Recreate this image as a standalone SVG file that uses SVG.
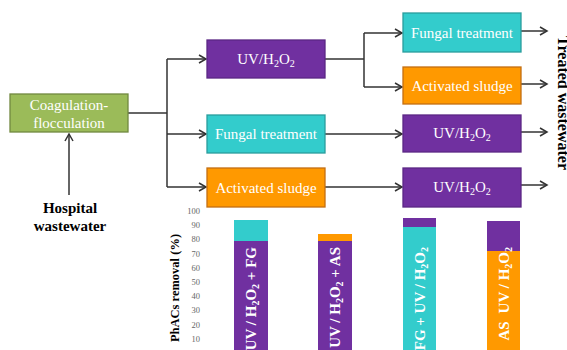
<svg xmlns="http://www.w3.org/2000/svg" width="567" height="350" viewBox="0 0 567 350">
<style>
.box{stroke-width:1.3}
.purple{fill:#7030A0;stroke:#5B2784}
.cyan{fill:#33CCCC;stroke:#2A9D9D}
.orange{fill:#FF9900;stroke:#C46F12}
.green{fill:#9BBB59;stroke:#71893F}
.bt{font-family:"Liberation Serif","Times New Roman",serif;font-size:15px;fill:#fff;text-anchor:middle}
.lbl{font-family:"Liberation Serif","Times New Roman",serif;font-weight:bold;fill:#000}
.bar{font-family:"Liberation Serif","Times New Roman",serif;font-weight:bold;font-size:15px;fill:#fff;text-anchor:end}
.tick{font-family:"Liberation Serif","Times New Roman",serif;font-size:8.5px;fill:#666;text-anchor:end}
.ln{fill:none;stroke:#333;stroke-width:1.5}
</style>
<defs>
<marker id="ah" markerUnits="userSpaceOnUse" markerWidth="10" markerHeight="10" refX="8" refY="5" orient="auto">
<path d="M1,1 L8,5 L1,9" fill="none" stroke="#333" stroke-width="1.5"/>
</marker>
</defs>

<g id="connectors" class="ln">
<path d="M69,195 L69,134" marker-end="url(#ah)"/>
<path d="M128,113 L167,113"/>
<path d="M167,59 L167,187"/>
<path d="M167,59 L206,59" marker-end="url(#ah)"/>
<path d="M167,134 L206,134" marker-end="url(#ah)"/>
<path d="M167,187 L206,187" marker-end="url(#ah)"/>
<path d="M325,59 L364,59"/>
<path d="M364,33 L364,87"/>
<path d="M364,33 L402,33" marker-end="url(#ah)"/>
<path d="M364,87 L402,87" marker-end="url(#ah)"/>
<path d="M325,134 L402,134" marker-end="url(#ah)"/>
<path d="M325,187 L402,187" marker-end="url(#ah)"/>
<path d="M521,31 L547,31" marker-end="url(#ah)"/>
<path d="M521,84 L547,84" marker-end="url(#ah)"/>
<path d="M521,132 L547,132" marker-end="url(#ah)"/>
<path d="M521,185 L547,185" marker-end="url(#ah)"/>
</g>

<g id="coag">
<rect class="box green" x="10" y="94" width="118" height="38"/>
<text class="bt" x="69" y="110">Coagulation-</text>
<text class="bt" x="69" y="128">flocculation</text>
</g>

<g id="hospital">
<text class="lbl" x="70" y="213" font-size="15" text-anchor="middle">Hospital</text>
<text class="lbl" x="70" y="231" font-size="15" text-anchor="middle">wastewater</text>
</g>

<g id="uv1">
<rect class="box purple" x="207" y="40" width="118" height="38"/>
<text class="bt" x="266" y="64">UV/H<tspan font-size="10" dy="3">2</tspan><tspan dy="-3">O</tspan><tspan font-size="10" dy="3">2</tspan></text>
</g>
<g id="fungal1">
<rect class="box cyan" x="207" y="115" width="118" height="38"/>
<text class="bt" x="266" y="139">Fungal treatment</text>
</g>
<g id="as1">
<rect class="box orange" x="207" y="168" width="118" height="39"/>
<text class="bt" x="266" y="193">Activated sludge</text>
</g>

<g id="fungal2">
<rect class="box cyan" x="403" y="13" width="118" height="39"/>
<text class="bt" x="462" y="38">Fungal treatment</text>
</g>
<g id="as2">
<rect class="box orange" x="403" y="67" width="118" height="37"/>
<text class="bt" x="462" y="91">Activated sludge</text>
</g>
<g id="uv2">
<rect class="box purple" x="403" y="115" width="118" height="37"/>
<text class="bt" x="462" y="138">UV/H<tspan font-size="10" dy="3">2</tspan><tspan dy="-3">O</tspan><tspan font-size="10" dy="3">2</tspan></text>
</g>
<g id="uv3">
<rect class="box purple" x="403" y="168" width="118" height="39"/>
<text class="bt" x="462" y="192">UV/H<tspan font-size="10" dy="3">2</tspan><tspan dy="-3">O</tspan><tspan font-size="10" dy="3">2</tspan></text>
</g>

<g id="treated">
<text class="lbl" font-size="16" transform="translate(558,103) rotate(90)" text-anchor="middle">Treated wastewater</text>
</g>

<g id="chart">
<text class="lbl" font-size="12.5" transform="translate(179,288) rotate(-90)" text-anchor="middle">PhACs removal (%)</text>
<g class="tick">
<text x="200" y="214">100</text>
<text x="200" y="228">90</text>
<text x="200" y="242">80</text>
<text x="200" y="257">70</text>
<text x="200" y="271">60</text>
<text x="200" y="285">50</text>
<text x="200" y="299">40</text>
<text x="200" y="313">30</text>
<text x="200" y="328">20</text>
<text x="200" y="342">10</text>
<text x="200" y="356">0</text>
</g>
<rect x="234" y="220" width="34" height="21" fill="#33CCCC"/>
<rect x="234" y="241" width="34" height="110" fill="#7030A0"/>
<rect x="318" y="234" width="34" height="7" fill="#FF9900"/>
<rect x="318" y="241" width="34" height="110" fill="#7030A0"/>
<rect x="403" y="218" width="33" height="9" fill="#7030A0"/>
<rect x="403" y="227" width="33" height="124" fill="#33CCCC"/>
<rect x="487" y="221" width="33" height="30" fill="#7030A0"/>
<rect x="487" y="251" width="33" height="100" fill="#FF9900"/>
<text class="bar" transform="translate(256,247) rotate(-90)">UV / H<tspan font-size="10" dy="3">2</tspan><tspan dy="-3">O</tspan><tspan font-size="10" dy="3">2</tspan><tspan dy="-3"> + FG</tspan></text>
<text class="bar" transform="translate(340,247) rotate(-90)">UV / H<tspan font-size="10" dy="3">2</tspan><tspan dy="-3">O</tspan><tspan font-size="10" dy="3">2</tspan><tspan dy="-3"> + AS</tspan></text>
<text class="bar" transform="translate(425,247) rotate(-90)">FG + UV / H<tspan font-size="10" dy="3">2</tspan><tspan dy="-3">O</tspan><tspan font-size="10" dy="3">2</tspan></text>
<text class="bar" transform="translate(509,247) rotate(-90)">AS<tspan dx="8">UV / H</tspan><tspan font-size="10" dy="3">2</tspan><tspan dy="-3">O</tspan><tspan font-size="10" dy="3">2</tspan></text>
</g>
</svg>
